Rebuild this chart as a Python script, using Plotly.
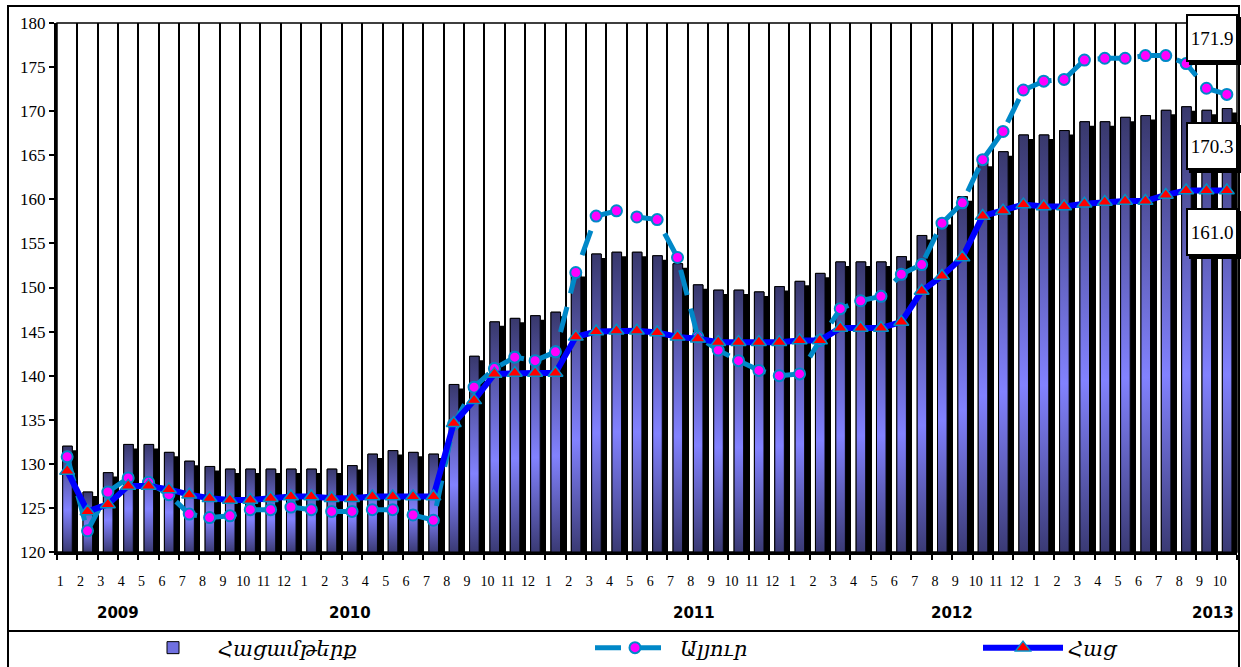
import plotly.graph_objects as go

# ---------------- data ----------------
month_labels = ["1", "2", "3", "4", "5", "6", "7", "8", "9", "10", "11", "12",
                "1", "2", "3", "4", "5", "6", "7", "8", "9", "10", "11", "12",
                "1", "2", "3", "4", "5", "6", "7", "8", "9", "10", "11", "12",
                "1", "2", "3", "4", "5", "6", "7", "8", "9", "10", "11", "12",
                "1", "2", "3", "4", "5", "6", "7", "8", "9", "10"]
year_labels = ["2009", "2010", "2011", "2012", "2013"]

bakery = [132.0, 126.8, 129.0, 132.2, 132.2, 131.3, 130.3, 129.7, 129.4, 129.4, 129.4, 129.4,
          129.4, 129.4, 129.8, 131.1, 131.5, 131.3, 131.1, 139.0, 142.2, 146.1, 146.5, 146.8,
          147.2, 151.7, 153.8, 154.0, 154.0, 153.6, 152.7, 150.3, 149.7, 149.7, 149.5, 150.1,
          150.7, 151.6, 152.9, 152.9, 152.9, 153.5, 155.9, 157.6, 160.3, 164.2, 165.4, 167.3,
          167.3, 167.8, 168.8, 168.8, 169.3, 169.5, 170.1, 170.5, 170.1, 170.3]

flour = [130.8, 122.4, 126.8, 128.4, 127.9, 126.5, 124.3, 123.9, 124.1, 124.8, 124.8, 125.1,
         124.8, 124.6, 124.6, 124.8, 124.8, 124.2, 123.6, 134.5, 138.7, 140.8, 142.1, 141.7,
         142.7, 151.7, 158.1, 158.7, 158.0, 157.7, 153.4, 144.4, 142.9, 141.7, 140.6, 140.0,
         140.2, 144.0, 147.6, 148.5, 149.0, 151.5, 152.6, 157.3, 159.6, 164.5, 167.7, 172.4,
         173.4, 173.6, 175.8, 176.0, 176.0, 176.3, 176.3, 175.4, 172.6, 171.9]

bread = [129.2, 124.6, 125.4, 127.5, 127.5, 127.1, 126.5, 126.1, 125.9, 125.9, 126.1, 126.3,
         126.3, 126.1, 126.1, 126.3, 126.3, 126.3, 126.3, 134.6, 137.2, 140.2, 140.3, 140.3,
         140.3, 144.4, 145.0, 145.1, 145.1, 144.9, 144.4, 144.2, 143.8, 143.8, 143.8, 143.8,
         144.0, 144.0, 145.4, 145.4, 145.4, 146.1, 149.6, 151.3, 153.4, 158.1, 158.7, 159.4,
         159.2, 159.2, 159.5, 159.7, 159.8, 159.8, 160.5, 161.0, 161.0, 161.0]

series_names = ["Հացամթերք", "Ալյուր", "Հաց"]

Y_MIN, Y_MAX = 120, 180
x = list(range(len(bakery)))

SERIF = "Liberation Serif"
FRONT_OFF, FRONT_W = -0.22, 0.47
grad = [[0.0, "#3a3a74"], [0.4, "#8282ff"], [1.0, "#38386c"]]

fig = go.Figure()

# 3-D side (shadow) of the columns
fig.add_trace(go.Bar(
    x=x, y=[v - 0.45 for v in bakery], offset=-0.05, width=0.55,
    marker=dict(color="black", line=dict(width=0)),
    showlegend=False, hoverinfo="skip"))

# front faces of the columns
fig.add_trace(go.Bar(
    x=x, y=bakery, offset=FRONT_OFF, width=FRONT_W,
    marker=dict(color="#7070e0", line=dict(color="black", width=1)),
    name="<i>" + series_names[0] + "</i>", legend="legend"))

# vertical gradient on each column face
for xi, v in zip(x, bakery):
    x0, x1 = xi + FRONT_OFF, xi + FRONT_OFF + FRONT_W
    fig.add_trace(go.Scatter(
        x=[x0, x1, x1, x0, x0], y=[Y_MIN, Y_MIN, v, v, Y_MIN],
        mode="lines", fill="toself",
        line=dict(color="black", width=1),
        fillgradient=dict(type="vertical", start=Y_MIN, stop=v, colorscale=grad),
        showlegend=False, hoverinfo="skip"))

# flour
fig.add_trace(go.Scatter(
    x=x, y=flour, mode="lines+markers",
    line=dict(color="#0088c8", width=5, dash="26px,14px"),
    marker=dict(symbol="circle", size=11, color="#ff00ff",
                line=dict(color="#0088c8", width=2)),
    name="<i>" + series_names[1] + "</i>", legend="legend2"))

# bread
fig.add_trace(go.Scatter(
    x=x, y=bread, mode="lines+markers",
    line=dict(color="#0000ff", width=6),
    marker=dict(symbol="triangle-up", size=13, color="#ff0000",
                line=dict(color="#0090c8", width=1.5)),
    name="<i>" + series_names[2] + "</i>", legend="legend3"))

W, H = 1241, 667
L, R, T, B = 57, 4, 23, 115
pw, ph = W - L - R, H - T - B


def px(xp):
    return (xp - L) / pw


def py(yp):
    return (H - B - yp) / ph


annotations = []
year_pos = [2.5, 13.9, 30.8, 43.5, 56.3]
for yl, xp in zip(year_labels, year_pos):
    annotations.append(dict(x=xp, xref="x", y=py(613), yref="paper", text="<b>" + yl + "</b>",
                            showarrow=False, font=dict(family="DejaVu Sans", size=15, color="black"),
                            xanchor="center", yanchor="middle"))

box_y = [38, 146, 232]
box_vals = [flour[-1], bakery[-1], bread[-1]]
for by, bv in zip(box_y, box_vals):
    annotations.append(dict(x=px(1212), xref="paper", y=py(by), yref="paper", text=" ",
                            showarrow=False, width=48, height=44, bgcolor="black",
                            borderwidth=2, bordercolor="black", borderpad=0,
                            xanchor="center", yanchor="middle", xshift=3, yshift=-3))
    annotations.append(dict(x=px(1212), xref="paper", y=py(by), yref="paper", text=f"{bv:.1f}",
                            showarrow=False, width=48, height=44, bgcolor="white",
                            borderwidth=2, bordercolor="black", borderpad=0,
                            xanchor="center", yanchor="middle",
                            font=dict(family=SERIF, size=19, color="black")))

shapes = [
    # plot-area frame
    dict(type="rect", xref="paper", yref="paper", x0=0, x1=1, y0=0, y1=1,
         line=dict(color="black", width=1.5), layer="below"),
    # outer chart frame
    dict(type="rect", xref="paper", yref="paper", x0=px(8), x1=px(1239), y0=py(700), y1=py(6),
         line=dict(color="black", width=2)),
    # separator above legend
    dict(type="line", xref="paper", yref="paper", x0=px(8), x1=px(1239), y0=py(631), y1=py(631),
         line=dict(color="black", width=2)),
]

legend_common = dict(orientation="h", yanchor="middle", xanchor="left", y=py(648),
                     bgcolor="rgba(0,0,0,0)", itemwidth=80,
                     font=dict(family="DejaVu Serif", size=21, color="black"))

fig.update_layout(
    width=W, height=H,
    margin=dict(l=L, r=R, t=T, b=B, pad=0, autoexpand=False),
    paper_bgcolor="white", plot_bgcolor="white",
    barmode="overlay",
    showlegend=True,
    legend=dict(legend_common, x=px(128)),
    legend2=dict(legend_common, x=px(590)),
    legend3=dict(legend_common, x=px(978)),
    xaxis=dict(
        range=[-0.5, len(x) - 0.5], tickmode="array", tickvals=x, ticktext=month_labels,
        ticks="outside", ticklen=14, tickcolor="rgba(0,0,0,0)", ticklabelshift=-7,
        tickfont=dict(family=SERIF, size=14, color="black"),
        showgrid=False, zeroline=False, showline=True, linecolor="black", linewidth=3,
        minor=dict(tickmode="array", tickvals=[i - 0.5 for i in range(len(x) + 1)],
                   ticks="outside", ticklen=5, tickwidth=2, tickcolor="black",
                   showgrid=True, gridcolor="black", gridwidth=1.5),
        fixedrange=True),
    yaxis=dict(
        range=[Y_MIN, Y_MAX], tick0=Y_MIN, dtick=5, tickmode="linear",
        ticks="outside", ticklen=5, tickwidth=2, tickcolor="black",
        tickfont=dict(family=SERIF, size=17, color="black"),
        showgrid=False, zeroline=False, showline=True, linecolor="black", linewidth=3,
        fixedrange=True),
    annotations=annotations,
    shapes=shapes,
)

fig.write_html("out.html", config={"displayModeBar": False},
               post_script="document.body.style.margin='0px';")
